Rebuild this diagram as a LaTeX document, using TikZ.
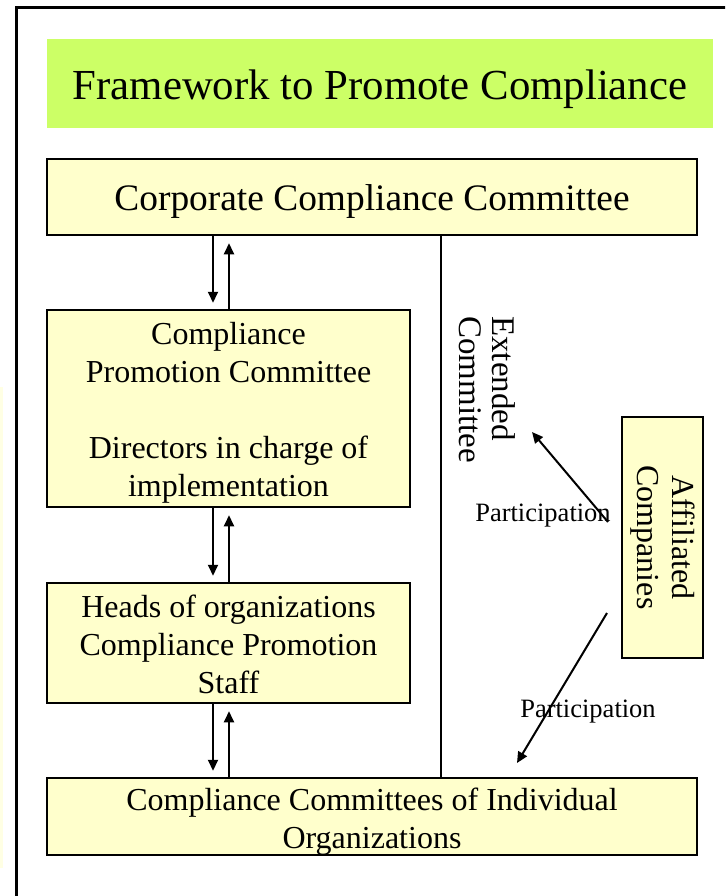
\documentclass[tikz,border=0pt]{standalone}
\usepackage{fontspec}
\setmainfont{Liberation Serif}
\usetikzlibrary{arrows.meta}
\definecolor{titlegreen}{RGB}{204,255,102}
\definecolor{boxyellow}{RGB}{255,255,204}
\definecolor{faintyellow}{RGB}{255,255,228}
% lower a centred block of lines by #1 without changing its size
\newcommand\lowtext[2]{\raisebox{-#1}[\height][\depth]{\begin{tabular}{@{}c@{}}#2\end{tabular}}}
\newcommand\lefttext[1]{\begin{tabular}{@{}l@{}}#1\end{tabular}}
\begin{document}
\begin{tikzpicture}[x=1pt,y=-1pt,
  box/.style={draw=black,line width=2.5pt,fill=boxyellow,inner sep=0pt,
    font=\fontsize{32}{38}\selectfont},
  arr/.style={line width=2pt,-{Triangle[length=11pt,width=10pt]}},
  plain/.style={line width=2pt},
  lbl/.style={inner sep=0pt,font=\fontsize{26.5}{30}\selectfont}]
\useasboundingbox (0,0) rectangle (725,896);
\clip (0,0) rectangle (725,896);
% faint strip at the left edge
\fill[faintyellow] (0,387) rectangle (2.5,868);
% outer frame (cropped)
\draw[line width=3pt] (16,900) -- (16,8) -- (730,8);
% title
\node[fill=titlegreen,inner sep=0pt,minimum width=666pt,minimum height=89pt,
  font=\fontsize{42.8}{48}\selectfont] (title) at (380,83.5)
  {\lowtext{6pt}{Framework to Promote Compliance}};
% boxes
\node[box,minimum width=650pt,minimum height=76pt,font=\fontsize{37.4}{42}\selectfont]
  (corp) at (372,197) {\lowtext{5pt}{Corporate Compliance Committee}};
\node[box,minimum width=363pt,minimum height=197pt] (cpc) at (228.5,408.5)
  {\lowtext{4.5pt}{Compliance\\Promotion Committee\\\mbox{}\\Directors in charge of\\implementation}};
\node[box,minimum width=363pt,minimum height=120pt] (heads) at (228.5,643)
  {\lowtext{4.5pt}{Heads of organizations\\Compliance Promotion\\Staff}};
\node[box,minimum width=650pt,minimum height=77pt] (indiv) at (372,816.5)
  {\lowtext{5pt}{Compliance Committees of Individual\\Organizations}};
\node[box,rotate=-90,minimum width=241pt,minimum height=81pt,
  font=\fontsize{32}{35}\selectfont] (aff) at (662.5,537.5)
  {\lowtext{1pt}{Affiliated\\Companies}};
% extended committee (left aligned, reads top to bottom)
\node[rotate=-90,inner sep=0pt,anchor=north west,font=\fontsize{33}{33}\selectfont]
  (ext) at (516,316) {\lefttext{Extended\\Committee}};
% vertical line
\coordinate (vx) at (441,0);
\draw[plain] (corp.south -| vx) -- (indiv.north -| vx);
% paired arrows
\coordinate (dx) at (213,0);
\coordinate (ux) at (229,0);
\draw[arr,shorten >=6pt] (corp.south -| dx) -- (cpc.north -| dx);
\draw[arr,shorten >=7pt] (cpc.north -| ux) -- (corp.south -| ux);
\draw[arr,shorten >=6pt] (cpc.south -| dx) -- (heads.north -| dx);
\draw[arr,shorten >=7pt] (heads.north -| ux) -- (cpc.south -| ux);
\draw[arr,shorten >=6pt] (heads.south -| dx) -- (indiv.north -| dx);
\draw[arr,shorten >=7pt] (indiv.north -| ux) -- (heads.south -| ux);
% participation arrows
\coordinate (p1s) at (608,522);
\coordinate (p1e) at (532,432);
\coordinate (p2s) at (607,613);
\coordinate (p2e) at (517,763);
\draw[arr] (p1s) -- (p1e);
\draw[arr] (p2s) -- (p2e);
\node[lbl] (part1) at (543,516) {Participation};
\node[lbl] (part2) at (588,712) {Participation};
\end{tikzpicture}
\end{document}
